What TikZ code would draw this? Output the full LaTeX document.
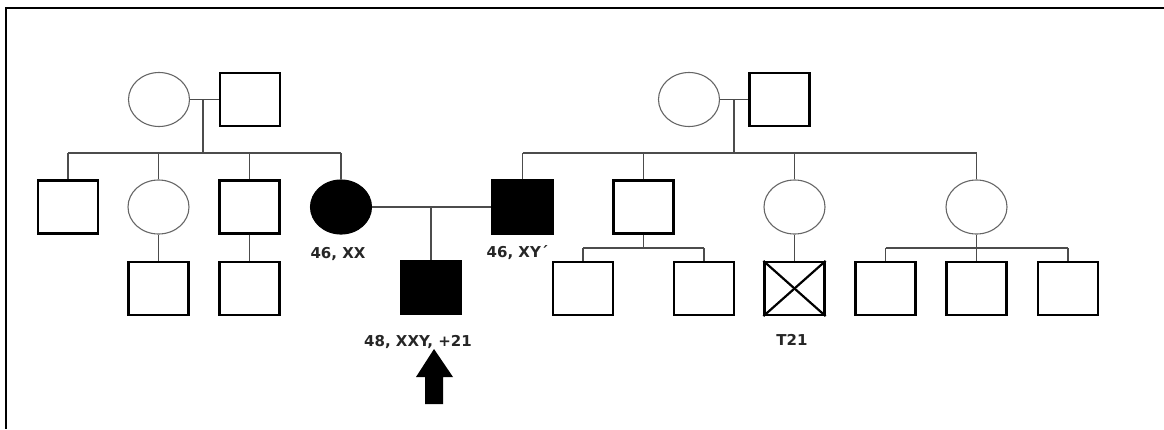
\documentclass[tikz,border=0pt]{standalone}
\usepackage{fontspec}
\newfontfamily\labfont{DejaVu Sans}
\usetikzlibrary{shapes.geometric}
\begin{document}
\begin{tikzpicture}[x=1pt,y=-1pt,
 sq/.style={rectangle,draw=black,line width=2.2pt,minimum width=60pt,minimum height=53pt,inner sep=0pt},
 fm/.style={ellipse,draw=black!60,line width=1.1pt,minimum width=61pt,minimum height=54pt,inner sep=0pt},
 aff/.style={fill=black,draw=black},
 ln/.style={draw=black!70,line width=1.4pt},
 lbl/.style={font=\labfont\bfseries\fontsize{15}{17}\selectfont,text=black!85,inner sep=0pt}]
\useasboundingbox (0,0) rectangle (1164,429);
\draw[line width=2.6pt] (1164,8) -- (6,8) -- (6,429);

% left grandparents
\node[fm] (gm1) at (159,99.5) {};
\node[sq] (gf1) at (250,99.5) {};
\coordinate (m1) at (203,99.5);
\coordinate (s1) at (203,153);
% left children
\node[sq] (c1) at (68,207) {};
\node[fm] (c2) at (158.5,207) {};
\node[sq] (c3) at (249.5,207) {};
\node[fm,aff] (mom) at (341,207) {};
\node[sq] (gc1) at (158.5,288.5) {};
\node[sq] (gc2) at (249.5,288.5) {};

% right grandparents
\node[fm] (gm2) at (689,99.5) {};
\node[sq] (gf2) at (779.5,99.5) {};
\coordinate (m3) at (734,99.5);
\coordinate (s2) at (734,153);
% right children
\node[sq,aff] (dad) at (522.5,207) {};
\node[sq] (r1) at (643.5,207) {};
\node[fm] (r2) at (794.5,207) {};
\node[fm] (r3) at (976.5,207) {};
% right grandchildren
\coordinate (s3) at (643.5,248);
\coordinate (s4) at (976.5,248);
\node[sq] (g1) at (583,288.5) {};
\node[sq] (g2) at (704,288.5) {};
\node[sq] (t21) at (794.5,288.5) {};
\node[sq] (g4) at (885.5,288.5) {};
\node[sq] (g5) at (976.5,288.5) {};
\node[sq] (g6) at (1068,288.5) {};

% proband
\node[sq,aff] (pb) at (431,287.5) {};

% connectors left
\draw[ln] (gm1.east) -- (gf1.west);
\draw[ln] (m1) -- (s1);
\draw[ln] (c1.north |- s1) -- (mom.north |- s1);
\foreach \n in {c1,c2,c3,mom} \draw[ln] (\n.north) -- (\n.north |- s1);
\draw[ln] (c2.south) -- (gc1.north);
\draw[ln] (c3.south) -- (gc2.north);

% couple and proband
\draw[ln] (mom.east) -- (dad.west);
\draw[ln] (pb.north |- mom.east) -- (pb.north);

% connectors right
\draw[ln] (gm2.east) -- (gf2.west);
\draw[ln] (m3) -- (s2);
\draw[ln] (dad.north |- s2) -- (r3.north |- s2);
\foreach \n in {dad,r1,r2,r3} \draw[ln] (\n.north) -- (\n.north |- s2);
\draw[ln] (r1.south) -- (s3);
\draw[ln] (g1.north |- s3) -- (g2.north |- s3);
\draw[ln] (g1.north) -- (g1.north |- s3);
\draw[ln] (g2.north) -- (g2.north |- s3);
\draw[ln] (r2.south) -- (t21.north);
\draw[ln] (r3.south) -- (s4);
\draw[ln] (g4.north |- s4) -- (g6.north |- s4);
\foreach \n in {g4,g5,g6} \draw[ln] (\n.north) -- (\n.north |- s4);

% T21 cross
\draw[line width=2.2pt] (t21.north west) -- (t21.south east);
\draw[line width=2.2pt] (t21.north east) -- (t21.south west);

% labels
\node[lbl] (lmom) at (338,254) {46, XX};
\node[lbl] (ldad) at (517.5,253) {46, XY\char"00B4};
\node[lbl] (lpb) at (418,342) {48, XXY, +21};
\node[lbl] (lt21) at (792,340) {T21};

% proband arrow
\fill (434,349) -- (453,377) -- (443,377) -- (443,404) -- (425,404) -- (425,377) -- (416,377) -- cycle;
\end{tikzpicture}
\end{document}
